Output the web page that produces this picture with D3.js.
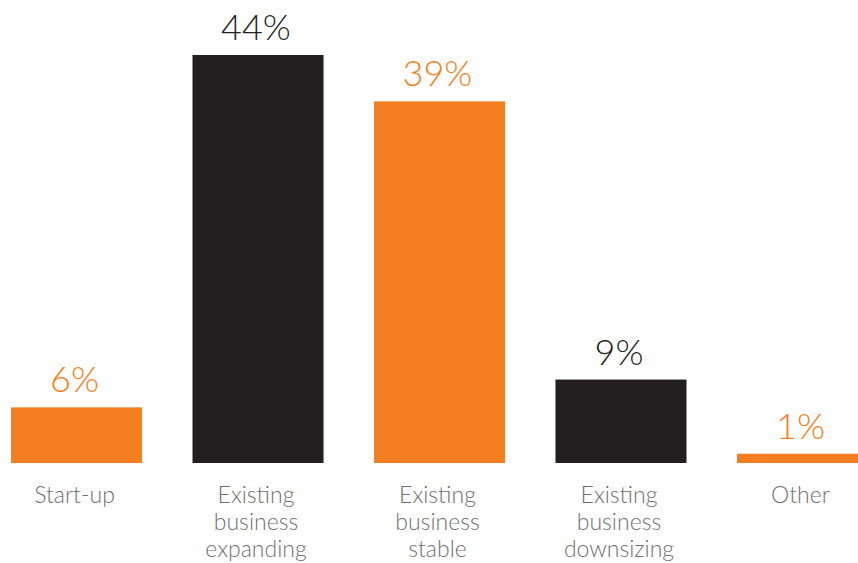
<!DOCTYPE html>
<html>
<head>
<meta charset="utf-8">
<script src="https://cdn.jsdelivr.net/npm/d3@7"></script>
<style>
  body { margin: 0; background: #fff; }
  svg { display: block; font-family: Lato, "Open Sans", sans-serif; }
</style>
</head>
<body>
<svg id="chart"></svg>
<script>
var categories = ['Start-up', 'Existing business expanding', 'Existing business stable', 'Existing business downsizing', 'Other']
var labelLines = [['Start-up'], ['Existing', 'business', 'expanding'], ['Existing', 'business', 'stable'], ['Existing', 'business', 'downsizing'], ['Other']]
var values = [6, 44, 39, 9, 1]
var barColors = ['#f47f20', '#231f20', '#f47f20', '#231f20', '#f47f20']

var width = 858, height = 563
var baseline = 463

var svg = d3.select('#chart')
  .attr('width', width)
  .attr('height', height)

var x = d3.scaleBand()
  .domain(categories)
  .range([11, 868])
  .paddingInner(0.278)
  .paddingOuter(0)

var y = d3.scaleLinear()
  .domain([0, 44])
  .range([baseline, 55])

svg.selectAll('rect.bar')
  .data(values)
  .enter()
  .append('rect')
    .attr('class', 'bar')
    .attr('x', (d, i) => x(categories[i]))
    .attr('y', d => y(d))
    .attr('width', x.bandwidth())
    .attr('height', d => baseline - y(d))
    .style('fill', (d, i) => barColors[i])

// value labels
svg.selectAll('text.val')
  .data(values)
  .enter()
  .append('text')
    .attr('class', 'val')
    .attr('x', (d, i) => x(categories[i]) + x.bandwidth() / 2 - 2)
    .attr('y', d => y(d) - 15)
    .attr('text-anchor', 'middle')
    .style('font-size', '36px')
    .style('font-weight', 300)
    .style('fill', (d, i) => barColors[i])
    .text(d => d + '%')

// category labels
var cat = svg.selectAll('text.cat')
  .data(labelLines)
  .enter()
  .append('text')
    .attr('class', 'cat')
    .attr('x', (d, i) => x(categories[i]) + x.bandwidth() / 2)
    .attr('y', 503)
    .attr('text-anchor', 'middle')
    .style('font-size', '23px')
    .style('font-weight', 300)
    .style('fill', '#6f6f6f')

cat.each(function(lines, i) {
  var cx = x(categories[i]) + x.bandwidth() / 2 - 2
  d3.select(this).selectAll('tspan')
    .data(lines)
    .enter()
    .append('tspan')
      .attr('x', cx)
      .attr('dy', (l, j) => j == 0 ? 0 : 27)
      .text(l => l)
})
</script>
</body>
</html>
